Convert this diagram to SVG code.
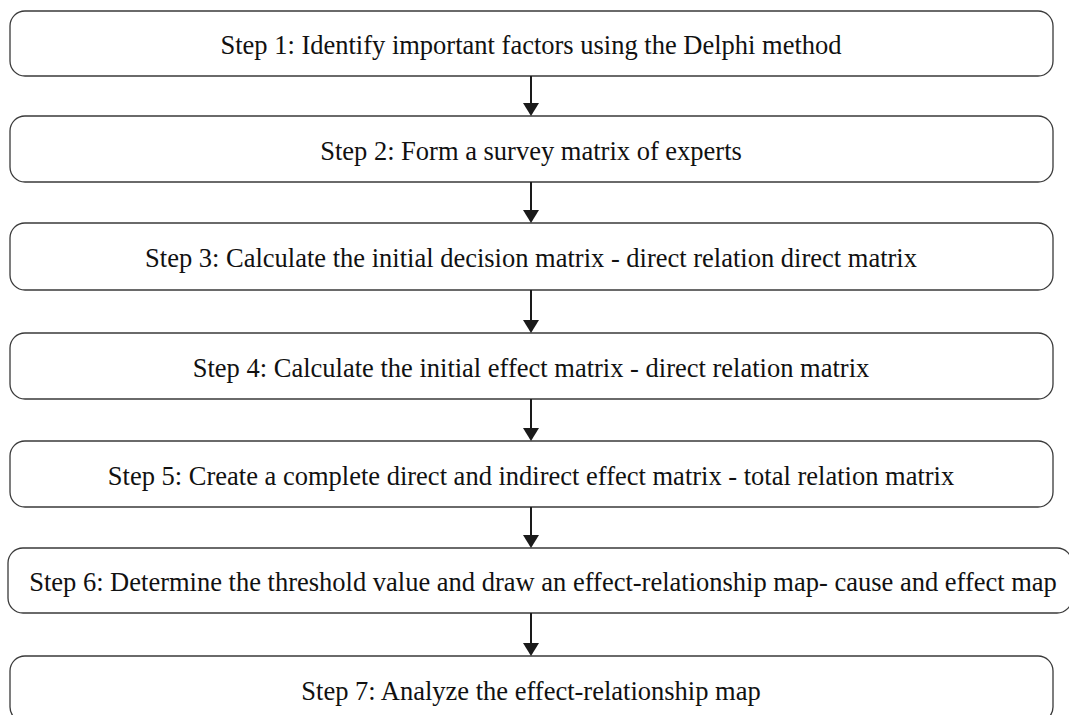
<svg xmlns="http://www.w3.org/2000/svg" width="1069" height="715" viewBox="0 0 1069 715">
<style>
  .box { fill: #ffffff; stroke: #3a3a3a; stroke-width: 1.3; }
  .lbl { font-family: "Liberation Serif", "Times New Roman", serif; font-size: 26.5px; fill: #111111; text-anchor: middle; }
  .conn { stroke: #1a1a1a; stroke-width: 2; fill: none; marker-end: url(#arrow); }
</style>
<defs>
  <marker id="arrow" viewBox="0 0 13 16" refX="11" refY="8" markerWidth="13" markerHeight="16" markerUnits="userSpaceOnUse" orient="auto">
    <path d="M0,0 L13,8 L0,16 Z" fill="#1a1a1a"/>
  </marker>
</defs>
<rect width="1069" height="715" fill="#ffffff"/>
<g id="step1">
  <rect class="box" x="10" y="11" width="1043" height="65" rx="15" ry="15"/>
  <text class="lbl" x="531" y="54">Step 1: Identify important factors using the Delphi method</text>
</g>
<g id="step2">
  <rect class="box" x="10" y="116" width="1043" height="66" rx="15" ry="15"/>
  <text class="lbl" x="531" y="159.5">Step 2: Form a survey matrix of experts</text>
</g>
<g id="step3">
  <rect class="box" x="10" y="223" width="1043" height="67" rx="15" ry="15"/>
  <text class="lbl" x="531" y="267">Step 3: Calculate the initial decision matrix - direct relation direct matrix</text>
</g>
<g id="step4">
  <rect class="box" x="10" y="333" width="1043" height="66" rx="15" ry="15"/>
  <text class="lbl" x="531" y="376.5">Step 4: Calculate the initial effect matrix - direct relation matrix</text>
</g>
<g id="step5">
  <rect class="box" x="10" y="441" width="1043" height="66" rx="15" ry="15"/>
  <text class="lbl" x="531" y="484.5">Step 5: Create a complete direct and indirect effect matrix - total relation matrix</text>
</g>
<g id="step6">
  <rect class="box" x="8" y="548" width="1064" height="65" rx="15" ry="15"/>
  <text class="lbl" x="543" y="591">Step 6: Determine the threshold value and draw an effect-relationship map- cause and effect map</text>
</g>
<g id="step7">
  <rect class="box" x="10" y="656" width="1043" height="66" rx="15" ry="15"/>
  <text class="lbl" x="531" y="699.5">Step 7: Analyze the effect-relationship map</text>
</g>
<g id="connectors">
  <line class="conn" x1="531" y1="76" x2="531" y2="114"/>
  <line class="conn" x1="531" y1="182" x2="531" y2="221"/>
  <line class="conn" x1="531" y1="290" x2="531" y2="331"/>
  <line class="conn" x1="531" y1="399" x2="531" y2="439"/>
  <line class="conn" x1="531" y1="507" x2="531" y2="546"/>
  <line class="conn" x1="531" y1="613" x2="531" y2="654"/>
</g>
</svg>
